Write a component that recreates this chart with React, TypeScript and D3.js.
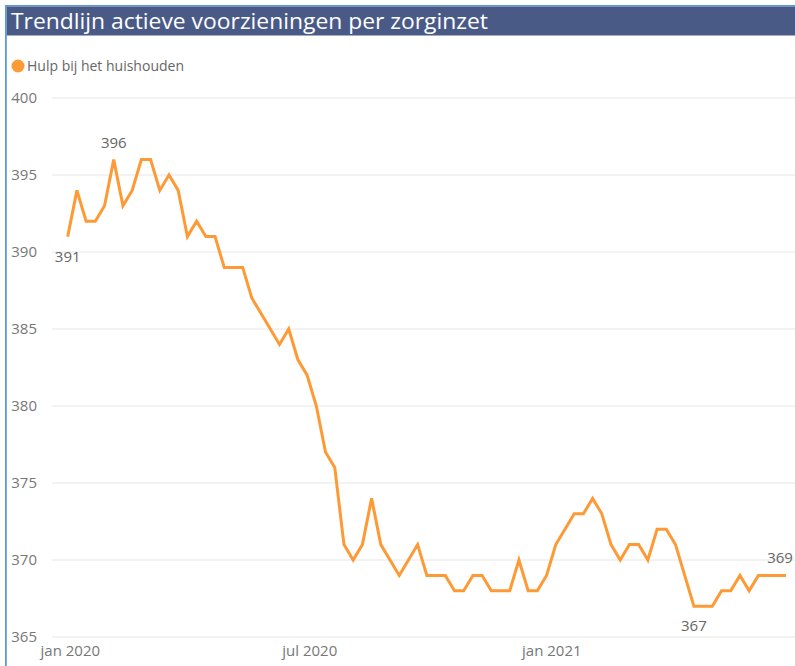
import React, { useEffect, useRef } from "react";
import * as d3 from "d3";

const seriesName = "Hulp bij het huishouden";
const firstWeek = "2019-12-30";
// weekly counts
const values = [
  391, 394, 392, 392, 393, 396, 393, 394, 396, 396,
  394, 395, 394, 391, 392, 391, 391, 389, 389, 389,
  387, 386, 385, 384, 385, 383, 382, 380, 377, 376,
  371, 370, 371, 374, 371, 370, 369, 370, 371, 369,
  369, 369, 368, 368, 369, 369, 368, 368, 368, 370,
  368, 368, 369, 371, 372, 373, 373, 374, 373, 371,
  370, 371, 371, 370, 372, 372, 371, 369, 367, 367,
  367, 368, 368, 369, 368, 369, 369, 369, 369,
];
const yTicks = [365, 370, 375, 380, 385, 390, 395, 400];
const xTickDates = ["2020-01-01", "2020-07-01", "2021-01-01"];
const xTickLabels = ["jan 2020", "jul 2020", "jan 2021"];
// which points carry a data label, and on which side
const labelIdx = [0, 5, 68, 78];
const labelSide = ["below", "above", "below", "above"];

const W = 795,
  H = 666;
const FONT = "'Segoe UI', 'Open Sans', sans-serif";

export default function App() {
  const ref = useRef<SVGSVGElement>(null);

  useEffect(() => {
    const svg = d3.select(ref.current);
    svg.selectAll("*").remove();

    const parse = d3.utcParse("%Y-%m-%d");
    const start = parse(firstWeek)!;
    const data = values.map((v, i) => ({ date: d3.utcDay.offset(start, i * 7), value: v }));

    const x = d3
      .scaleUtc()
      .domain(d3.extent(data, (d) => d.date) as [Date, Date])
      .range([67.7, 786]);
    const y = d3.scaleLinear().domain([365, 400]).range([637, 98]);

    svg.append("rect").attr("width", W).attr("height", H).attr("fill", "#fff");

    // frame + title bar
    svg.append("rect").attr("x", 5).attr("y", 5).attr("width", W - 5).attr("height", 1.5).attr("fill", "#5B9BD5");
    svg.append("rect").attr("x", 5).attr("y", 5).attr("width", 1.8).attr("height", H - 5).attr("fill", "#5B9BD5");
    svg.append("rect").attr("x", 6.8).attr("y", 6.5).attr("width", W - 6.8).attr("height", 29).attr("fill", "#4A5A87");
    svg
      .append("text")
      .attr("x", 11)
      .attr("y", 29)
      .attr("fill", "#fff")
      .attr("font-family", FONT)
      .attr("font-size", 22)
      .attr("textLength", 477)
      .attr("lengthAdjust", "spacingAndGlyphs")
      .text("Trendlijn actieve voorzieningen per zorginzet");

    // legend
    svg.append("circle").attr("cx", 18).attr("cy", 66).attr("r", 6.5).attr("fill", "#FD9A35");
    svg
      .append("text")
      .attr("x", 27)
      .attr("y", 71)
      .attr("fill", "#666")
      .attr("font-family", FONT)
      .attr("font-size", 14)
      .text(seriesName);

    // grid + y axis
    const gy = svg.append("g");
    gy.selectAll("line")
      .data(yTicks)
      .enter()
      .append("line")
      .attr("x1", 52)
      .attr("x2", W)
      .attr("y1", (d) => y(d))
      .attr("y2", (d) => y(d))
      .attr("stroke", "#E6E6E6")
      .attr("stroke-width", 1);
    gy.selectAll("text")
      .data(yTicks)
      .enter()
      .append("text")
      .attr("x", 37)
      .attr("y", (d) => y(d))
      .attr("dy", "0.35em")
      .attr("text-anchor", "end")
      .attr("fill", "#777")
      .attr("font-family", FONT)
      .attr("font-size", 15)
      .text((d) => d);

    // x axis labels
    svg
      .append("g")
      .selectAll("text")
      .data(xTickDates)
      .enter()
      .append("text")
      .attr("x", (d) => x(parse(d)!))
      .attr("y", 656)
      .attr("text-anchor", "middle")
      .attr("fill", "#777")
      .attr("font-family", FONT)
      .attr("font-size", 15)
      .text((d, i) => xTickLabels[i]);

    // line
    const line = d3
      .line<{ date: Date; value: number }>()
      .x((d) => x(d.date))
      .y((d) => y(d.value));
    svg
      .append("path")
      .datum(data)
      .attr("d", line)
      .attr("fill", "none")
      .attr("stroke", "#FD9A35")
      .attr("stroke-width", 3)
      .attr("stroke-linejoin", "miter");

    // data labels (kept inside the right edge)
    svg
      .append("g")
      .selectAll("text")
      .data(labelIdx)
      .enter()
      .append("text")
      .attr("x", (d) => Math.min(x(data[d].date), W - 15))
      .attr("y", (d, i) => y(data[d].value) + (labelSide[i] === "below" ? 25 : -12))
      .attr("text-anchor", "middle")
      .attr("fill", "#666")
      .attr("font-family", FONT)
      .attr("font-size", 15)
      .text((d) => data[d].value);
  }, []);

  return (
    <svg
      ref={ref}
      width={W}
      height={H}
      style={{ position: "absolute", left: 0, top: 0, display: "block" }}
    ></svg>
  );
}
